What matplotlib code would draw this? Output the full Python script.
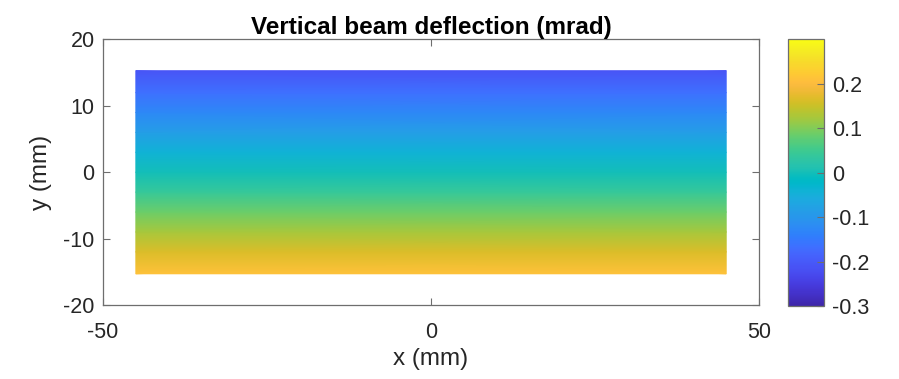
import numpy as np
import matplotlib
matplotlib.use("Agg")
import matplotlib.pyplot as plt
from matplotlib.colors import LinearSegmentedColormap

# ---- data ----
x_extent = [-45.0, 45.0]                      # mm, left/right edges of the map
y_rows = [-15.3, -12.0, -9.0, -6.0, -3.0, 0.0, 3.0, 6.0, 9.0, 12.0, 15.3]   # mm
deflection = [0.21, 0.165, 0.125, 0.085, 0.04, 0.0, -0.04, -0.085, -0.125, -0.165, -0.21]  # mrad
x_ticks = [-50, 0, 50]
y_ticks = [-20, -10, 0, 10, 20]
cbar_ticks = [-0.3, -0.2, -0.1, 0, 0.1, 0.2]
cbar_labels = ['-0.3', '-0.2', '-0.1', '0', '0.1', '0.2']
clim = [-0.3, 0.3]

# ---- MATLAB parula colormap ----
parula_rgb = [
    [0.2422, 0.1504, 0.6603], [0.2504, 0.1650, 0.7076], [0.2578, 0.1818, 0.7511], [0.2647, 0.1978, 0.7952],
    [0.2706, 0.2147, 0.8364], [0.2751, 0.2342, 0.8710], [0.2783, 0.2559, 0.8991], [0.2803, 0.2782, 0.9221],
    [0.2813, 0.3006, 0.9414], [0.2810, 0.3228, 0.9579], [0.2795, 0.3447, 0.9717], [0.2760, 0.3667, 0.9829],
    [0.2699, 0.3892, 0.9906], [0.2602, 0.4123, 0.9952], [0.2440, 0.4358, 0.9988], [0.2206, 0.4603, 0.9973],
    [0.1963, 0.4847, 0.9892], [0.1834, 0.5074, 0.9798], [0.1786, 0.5289, 0.9682], [0.1764, 0.5499, 0.9520],
    [0.1687, 0.5703, 0.9359], [0.1540, 0.5902, 0.9218], [0.1460, 0.6091, 0.9079], [0.1380, 0.6276, 0.8973],
    [0.1248, 0.6459, 0.8883], [0.1113, 0.6635, 0.8763], [0.0952, 0.6798, 0.8598], [0.0689, 0.6948, 0.8394],
    [0.0297, 0.7082, 0.8163], [0.0036, 0.7203, 0.7917], [0.0067, 0.7312, 0.7660], [0.0433, 0.7411, 0.7394],
    [0.0964, 0.7500, 0.7120], [0.1408, 0.7584, 0.6842], [0.1717, 0.7670, 0.6554], [0.1938, 0.7758, 0.6251],
    [0.2161, 0.7843, 0.5923], [0.2470, 0.7918, 0.5567], [0.2906, 0.7973, 0.5188], [0.3406, 0.8008, 0.4789],
    [0.3909, 0.8029, 0.4354], [0.4456, 0.8024, 0.3909], [0.5044, 0.7993, 0.3480], [0.5616, 0.7942, 0.3045],
    [0.6174, 0.7876, 0.2612], [0.6720, 0.7793, 0.2227], [0.7242, 0.7698, 0.1910], [0.7738, 0.7598, 0.1646],
    [0.8203, 0.7498, 0.1535], [0.8634, 0.7406, 0.1596], [0.9035, 0.7330, 0.1774], [0.9393, 0.7288, 0.2100],
    [0.9728, 0.7298, 0.2394], [0.9956, 0.7434, 0.2371], [0.9970, 0.7659, 0.2199], [0.9952, 0.7893, 0.2028],
    [0.9892, 0.8136, 0.1885], [0.9786, 0.8386, 0.1766], [0.9676, 0.8639, 0.1643], [0.9610, 0.8890, 0.1537],
    [0.9597, 0.9135, 0.1423], [0.9628, 0.9373, 0.1265], [0.9691, 0.9606, 0.1064], [0.9769, 0.9839, 0.0805],
]
parula = LinearSegmentedColormap.from_list("parula", parula_rgb, N=256)

plt.rcParams['font.family'] = ['Liberation Sans', 'DejaVu Sans']
plt.rcParams['axes.unicode_minus'] = False
axis_col = '#6e6e6e'
text_col = '#262626'

fig = plt.figure(figsize=(8.99, 3.79), dpi=100)
ax = fig.add_axes([0.1146, 0.1953, 0.7297, 0.7005])
cax = fig.add_axes([0.8765, 0.1925, 0.0400, 0.7033])

X, Y = np.meshgrid(x_extent, y_rows)
Z = np.column_stack([deflection, deflection])
mesh = ax.pcolormesh(X, Y, Z, cmap=parula, vmin=clim[0], vmax=clim[1], shading='gouraud')

ax.set_xlim(-50, 50)
ax.set_ylim(-20, 20)
ax.set_xticks(x_ticks)
ax.set_yticks(y_ticks)
ax.set_xticklabels([str(v) for v in x_ticks])
ax.set_yticklabels([str(v) for v in y_ticks])
ax.tick_params(direction='in', length=5, width=0.8, colors=axis_col, labelcolor=text_col,
               labelsize=15.5, top=True, right=True)
ax.tick_params(axis='x', pad=12)
ax.tick_params(axis='y', pad=6)
for s in ax.spines.values():
    s.set_color(axis_col)
    s.set_linewidth(0.9)
ax.set_xlabel('x (mm)', fontsize=17.5, color=text_col, labelpad=4)
ax.set_ylabel('y (mm)', fontsize=17.5, color=text_col, labelpad=8)
ax.set_title('Vertical beam deflection (mrad)', fontsize=17.5, fontweight='bold', color='black', pad=4)

cb = fig.colorbar(mesh, cax=cax, ticks=cbar_ticks)
cb.ax.tick_params(direction='in', length=5, width=0.8, colors=axis_col, labelcolor=text_col,
                  labelsize=15.5, pad=6)
cb.ax.set_yticklabels(cbar_labels)
cb.outline.set_edgecolor(axis_col)
cb.outline.set_linewidth(0.9)

fig.savefig('out.png', dpi=100)
